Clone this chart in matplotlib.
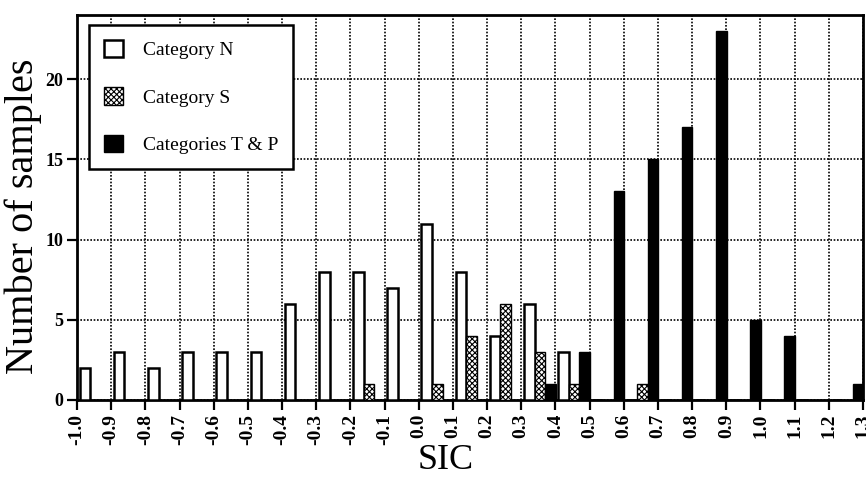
import numpy as np
import matplotlib
matplotlib.use("Agg")
import matplotlib.pyplot as plt
from matplotlib.patches import Patch

# bin left edges (SIC)
bin_starts = [-1.0, -0.9, -0.8, -0.7, -0.6, -0.5, -0.4, -0.3, -0.2, -0.1,
              0.0, 0.1, 0.2, 0.3, 0.4, 0.5, 0.6, 0.7, 0.8, 0.9, 1.0, 1.1, 1.2]
cat_n = [2, 3, 2, 3, 3, 3, 6, 8, 8, 7, 11, 8, 4, 6, 3, 0, 0, 0, 0, 0, 0, 0, 0]
cat_s = [0, 0, 0, 0, 0, 0, 0, 0, 1, 0, 1, 4, 6, 3, 1, 0, 1, 0, 0, 0, 0, 0, 0]
cat_tp = [0, 0, 0, 0, 0, 0, 0, 0, 0, 0, 0, 0, 0, 1, 3, 13, 15, 17, 23, 5, 4, 0, 1]
tick_values = [round(-1.0 + 0.1 * i, 1) for i in range(24)]
tick_labels = ["%.1f" % v for v in tick_values]
y_ticks = [0, 5, 10, 15, 20]
legend_labels = ['Category N', 'Category S', 'Categories T & P']

plt.rcParams['font.family'] = ['Liberation Serif', 'DejaVu Serif']
plt.rcParams['hatch.linewidth'] = 0.8

fig = plt.figure(figsize=(8.66, 4.78), dpi=100)
ax = fig.add_axes([0.0889, 0.1632, 0.9076, 0.8054])

x = np.array(bin_starts)
w = 0.031
ax.bar(x + 0.008, cat_n, width=w, align='edge', color='white', edgecolor='black', linewidth=1.8, zorder=3)
ax.bar(x + 0.008 + w, cat_s, width=w, align='edge', color='white', edgecolor='black', hatch='xxxxxx', linewidth=1.0, zorder=3)
ax.bar(x + 0.008 + 2 * w, cat_tp, width=w, align='edge', color='black', edgecolor='black', linewidth=1.0, zorder=3)

ax.set_xlim(-1.0, 1.3)
ax.set_ylim(0, 24)
ax.set_xticks(tick_values)
ax.set_xticklabels(tick_labels, rotation=90, fontsize=14, fontweight='bold')
ax.set_yticks(y_ticks)
ax.set_yticklabels([str(v) for v in y_ticks], fontsize=13, fontweight='bold')
ax.tick_params(axis='both', direction='out', length=7, width=1.6, pad=3)
ax.grid(True, linestyle=(0, (1.0, 1.0)), color='black', linewidth=1.2, zorder=1)
ax.set_axisbelow(True)
for s in ax.spines.values():
    s.set_linewidth(2.0)

ax.set_xlabel('SIC', fontsize=26)
ax.xaxis.set_label_coords(0.469, -0.158)
ax.xaxis.label.set_verticalalignment('center')
ax.set_ylabel('Number of samples', fontsize=29)
ax.yaxis.set_label_coords(-0.068, 0.478)
ax.yaxis.label.set_verticalalignment('center')

handles = [Patch(facecolor='white', edgecolor='black', linewidth=1.8),
           Patch(facecolor='white', edgecolor='black', hatch='xxxxxx', linewidth=1.0),
           Patch(facecolor='black', edgecolor='black')]
leg = ax.legend(handles, legend_labels,
                loc='upper left', bbox_to_anchor=(0.0153, 0.974), fontsize=14,
                frameon=True, fancybox=False, edgecolor='black', framealpha=1,
                handlelength=1.0, handleheight=1.0, labelspacing=1.45,
                borderpad=0.75, handletextpad=1.05, borderaxespad=0)
leg.get_frame().set_linewidth(1.8)

fig.savefig('out.png', dpi=100)
